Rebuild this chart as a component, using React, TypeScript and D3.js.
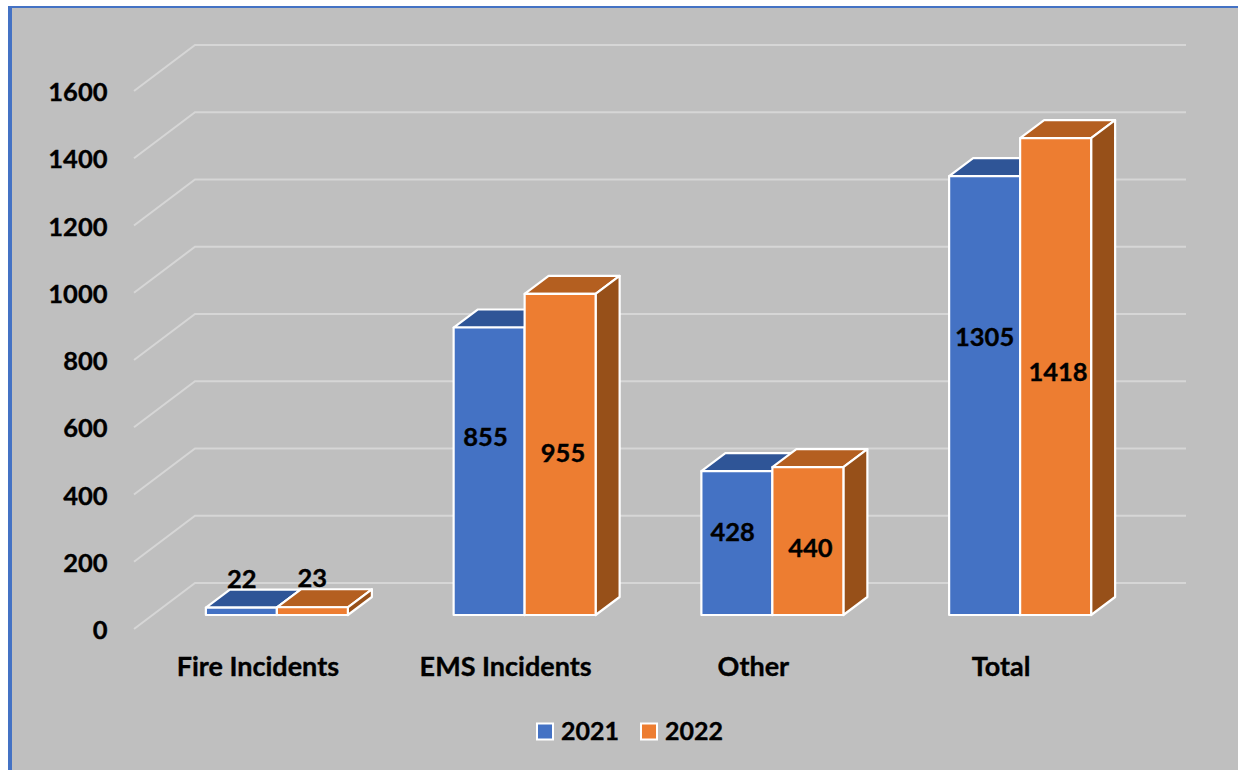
import React from "react";
import * as d3 from "d3";

const categories = ["Fire Incidents", "EMS Incidents", "Other", "Total"];
const seriesNames = ["2021", "2022"];
const values2021 = [22, 855, 428, 1305];
const values2022 = [23, 955, 440, 1418];
const yTicks = [0, 200, 400, 600, 800, 1000, 1200, 1400, 1600];

const W = 1238, H = 770;
const fontFamily = "Lato, 'Open Sans', sans-serif";
const COLORS = [
  { front: "#4472c4", top: "#2f5597", side: "#2f5597" },
  { front: "#ed7d31", top: "#b45f20", side: "#975019" },
];
// oblique projection of the floor
const DEPTH = { dx: 61, dy: -46 };
const BAR_SHIFT = { dx: 19, dy: -14 };
const BAR_DEPTH = { dx: 24, dy: -18 };

// label offset of the digit centre from the bar's front-face centre (px)
const labelDy = [
  [-32.8, -33.1],
  [-34.2, -1.4],
  [-11.5, 7],
  [-59.1, -4.6],
];
const labelDx = [
  [0.5, 0],
  [-3.6, 2.9],
  [-4.2, 2.6],
  [0, 2.4],
];

const textProps = { fill: "#000", stroke: "#000", strokeWidth: 0.35 };
// half the cap height of the digits, as a baseline shift
const capShift = (size: number) => size * 0.36;

export default function App() {
  const y = d3.scaleLinear().domain([0, 1600]).range([629, 91]);
  const x = d3.scaleBand<string>().domain(categories).range([134, 1125]);
  const barW = 71;
  const grid = d3.line();
  const series = [values2021, values2022];

  return (
    <svg width={W} height={H} viewBox={`0 0 ${W} ${H}`}
      style={{ position: "fixed", left: 0, top: 0, display: "block", background: "#fff" }}
      fontFamily={fontFamily} fontWeight={700}>
      <rect x={8} y={6} width={W - 8} height={H - 6} fill="#4472c4" />
      <rect x={12} y={8} width={W - 12} height={H - 8} fill="#bfbfbf" />

      {yTicks.map((t) => {
        const y0 = y(t);
        const x0 = x.range()[0];
        const x1 = x.range()[1];
        return (
          <g key={t}>
            <path
              d={grid([[x0, y0], [x0 + DEPTH.dx, y0 + DEPTH.dy], [x1 + DEPTH.dx, y0 + DEPTH.dy]]) ?? ""}
              fill="none" stroke="#d6d6d6" strokeWidth={2} />
            <text x={107.5} y={y0 + 1 + capShift(25.5)} textAnchor="end"
              fontSize={25.5} {...textProps}>{t}</text>
          </g>
        );
      })}

      {categories.map((c, i) => {
        const center = x(c)! + x.bandwidth() / 2 + BAR_SHIFT.dx;
        return (
          <g key={c}>
            {series.map((vals, s) => {
              const name = seriesNames[s];
              const xc = center - barW + s * barW;
              const yBottom = y(0) + BAR_SHIFT.dy;
              const yTop = y(vals[i]) + BAR_SHIFT.dy;
              const { dx, dy } = BAR_DEPTH;
              const col = COLORS[s];
              const x1 = xc + barW;
              return (
                <g key={name} stroke="#fff" strokeWidth={2.2} strokeLinejoin="round">
                  <polygon fill={col.top}
                    points={`${xc},${yTop} ${xc + dx},${yTop + dy} ${x1 + dx},${yTop + dy} ${x1},${yTop}`} />
                  <polygon fill={col.side}
                    points={`${x1},${yTop} ${x1 + dx},${yTop + dy} ${x1 + dx},${yBottom + dy} ${x1},${yBottom}`} />
                  <rect x={xc} y={yTop} width={barW} height={yBottom - yTop} fill={col.front} />
                </g>
              );
            })}
            {series.map((vals, s) => {
              const xc = center - barW + s * barW + barW / 2 + labelDx[i][s];
              const yBottom = y(0) + BAR_SHIFT.dy;
              const yTop = y(vals[i]) + BAR_SHIFT.dy;
              return (
                <text key={s} x={xc} y={(yBottom + yTop) / 2 + labelDy[i][s] + capShift(25.5)}
                  textAnchor="middle" fontSize={25.5} {...textProps}>
                  {vals[i]}
                </text>
              );
            })}
            <text x={x(c)! + x.bandwidth() / 2} y={676.2} textAnchor="middle"
              fontSize={27} {...textProps}>{c}</text>
          </g>
        );
      })}

      {seriesNames.map((name, s) => {
        const lx = 537 + s * 104;
        return (
          <g key={name}>
            <rect x={lx} y={723.5} width={16} height={16} fill={COLORS[s].front} stroke="#fff" strokeWidth={2} />
            <text x={lx + 24} y={731 + capShift(25)} fontSize={25} {...textProps}>{name}</text>
          </g>
        );
      })}
    </svg>
  );
}
